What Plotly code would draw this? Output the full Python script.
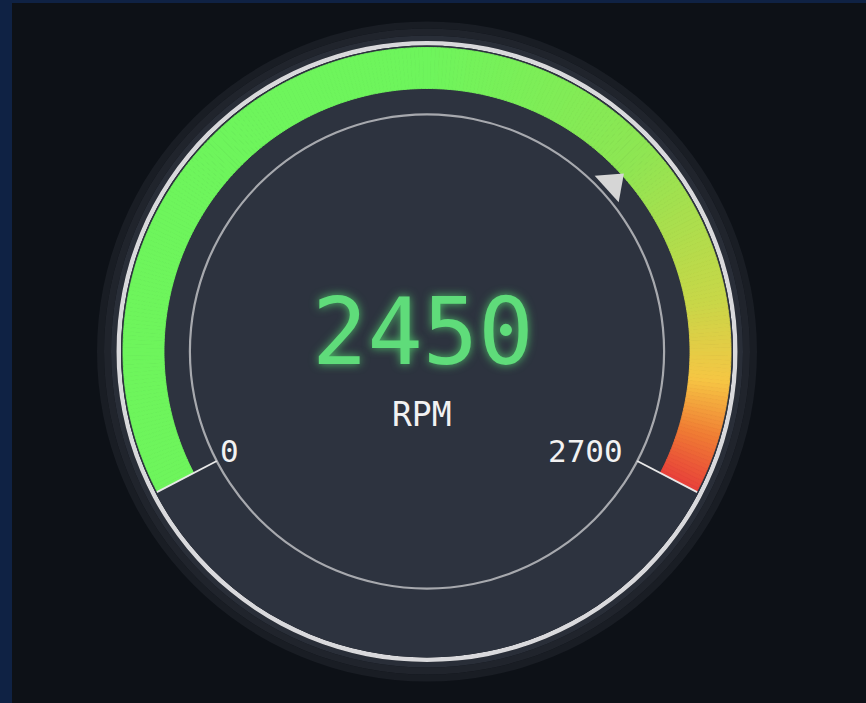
import plotly.graph_objects as go

# ---- data ----
gauge_min = 0
gauge_max = 2700
current_value = 2450
marker_value = 1900
unit_label = "RPM"
tick_labels = ["0", "2700"]

# ---- styling ----
W, H = 866, 703
CX, CY, R_OUT = 427, 351.5, 330
START_ANGLE = 207.5      # math degrees of the 0 position
SWEEP = 235.0            # degrees covered by the scale
BG = "#0d1117"
BORDER = "#0f2244"
DISC = "#2d333f"
FONT = "DejaVu Sans Mono"
colorscale = [
    [0.0, "#6ef55c"], [0.5, "#6ef55c"], [0.7, "#8ee653"], [0.84, "#c8d748"],
    [0.908, "#f6c644"], [0.955, "#f07c34"], [1.0, "#e8403a"],
]


def to_theta(v):
    """value -> angular-axis degrees (clockwise from the 0 position)"""
    return (v - gauge_min) / (gauge_max - gauge_min) * SWEEP


fig = go.Figure()

# rings (base, thickness, colour)
rings = [
    (323, 8, "#191d24"),
    (316, 7, "#20242c"),
    (310.5, 5.5, "#292e38"),
    (306, 4.5, "#d9d9dc"),
    (0, 306, DISC),
]
for base, thick, col in rings:
    fig.add_trace(go.Barpolar(r=[thick], base=[base], theta=[180], width=[360],
                              marker=dict(color=col, line=dict(width=0)),
                              hoverinfo="skip", showlegend=False))

# gradient band over the full scale
n_seg = 300
step = (gauge_max - gauge_min) / n_seg
seg_vals = [gauge_min + step * (i + 0.5) for i in range(n_seg)]
fig.add_trace(go.Barpolar(
    r=[41] * n_seg, base=[263] * n_seg,
    theta=[to_theta(v) for v in seg_vals],
    width=[to_theta(step)] * n_seg,
    marker=dict(color=seg_vals, colorscale=colorscale, cmin=gauge_min, cmax=gauge_max,
                line=dict(width=0.9, color=seg_vals, colorscale=colorscale,
                          cmin=gauge_min, cmax=gauge_max)),
    hoverinfo="skip", showlegend=False))

# inner thin circle
fig.add_trace(go.Barpolar(r=[2.2], base=[236], theta=[180], width=[360],
                          marker=dict(color="#a7a9ae", line=dict(width=0)),
                          hoverinfo="skip", showlegend=False))

# end tick lines
for v in (gauge_min, gauge_max):
    fig.add_trace(go.Scatterpolar(r=[237, 304.5], theta=[to_theta(v)] * 2, mode="lines",
                                  line=dict(color="#e8e8e8", width=1.8),
                                  hoverinfo="skip", showlegend=False))

# pointer triangle
bearing = 90 - (START_ANGLE - to_theta(marker_value))
fig.add_trace(go.Scatterpolar(r=[250], theta=[to_theta(marker_value)], mode="markers",
                              marker=dict(symbol="triangle-up", size=31, color="#d6d6d6",
                                          angle=bearing, line=dict(width=0)),
                              hoverinfo="skip", showlegend=False))

fig.update_layout(
    width=W, height=H, margin=dict(l=0, r=0, t=0, b=0),
    paper_bgcolor=BG, plot_bgcolor=BG,
    polar=dict(
        domain=dict(x=[(CX - R_OUT) / W, (CX + R_OUT) / W],
                    y=[(H - CY - R_OUT) / H, (H - CY + R_OUT) / H]),
        bgcolor="rgba(0,0,0,0)",
        hole=0,
        barmode="overlay",
        radialaxis=dict(range=[0, R_OUT], visible=False),
        angularaxis=dict(rotation=START_ANGLE, direction="clockwise", visible=False,
                         showgrid=False, showline=False, showticklabels=False, ticks=""),
    ),
    shapes=[
        dict(type="rect", xref="paper", yref="paper", x0=0, x1=12 / W, y0=0, y1=1,
             fillcolor=BORDER, line=dict(width=0), layer="above"),
        dict(type="rect", xref="paper", yref="paper", x0=0, x1=1, y0=1 - 3 / H, y1=1,
             fillcolor=BORDER, line=dict(width=0), layer="above"),
    ],
    annotations=[
        dict(text=str(current_value), x=423 / W, y=1 - 333 / H, xref="paper", yref="paper",
             showarrow=False, xanchor="center", yanchor="middle",
             font=dict(family=FONT, size=92, color="#5fdc7a",
                       shadow="0 0 10px rgba(90,235,120,0.75)")),
        dict(text=unit_label, x=422 / W, y=1 - 414 / H, xref="paper", yref="paper",
             showarrow=False, xanchor="center", yanchor="middle",
             font=dict(family=FONT, size=33, color="#f2f2f2")),
        dict(text=tick_labels[0], x=229 / W, y=1 - 451 / H, xref="paper", yref="paper",
             showarrow=False, xanchor="center", yanchor="middle",
             font=dict(family=FONT, size=31, color="#f2f2f2")),
        dict(text=tick_labels[1], x=585 / W, y=1 - 451 / H, xref="paper", yref="paper",
             showarrow=False, xanchor="center", yanchor="middle",
             font=dict(family=FONT, size=31, color="#f2f2f2")),
    ],
)

fig.write_html("out.html",
               config={"displayModeBar": False},
               post_script="document.body.style.margin='0';"
                           "document.body.style.background='#0d1117';")
